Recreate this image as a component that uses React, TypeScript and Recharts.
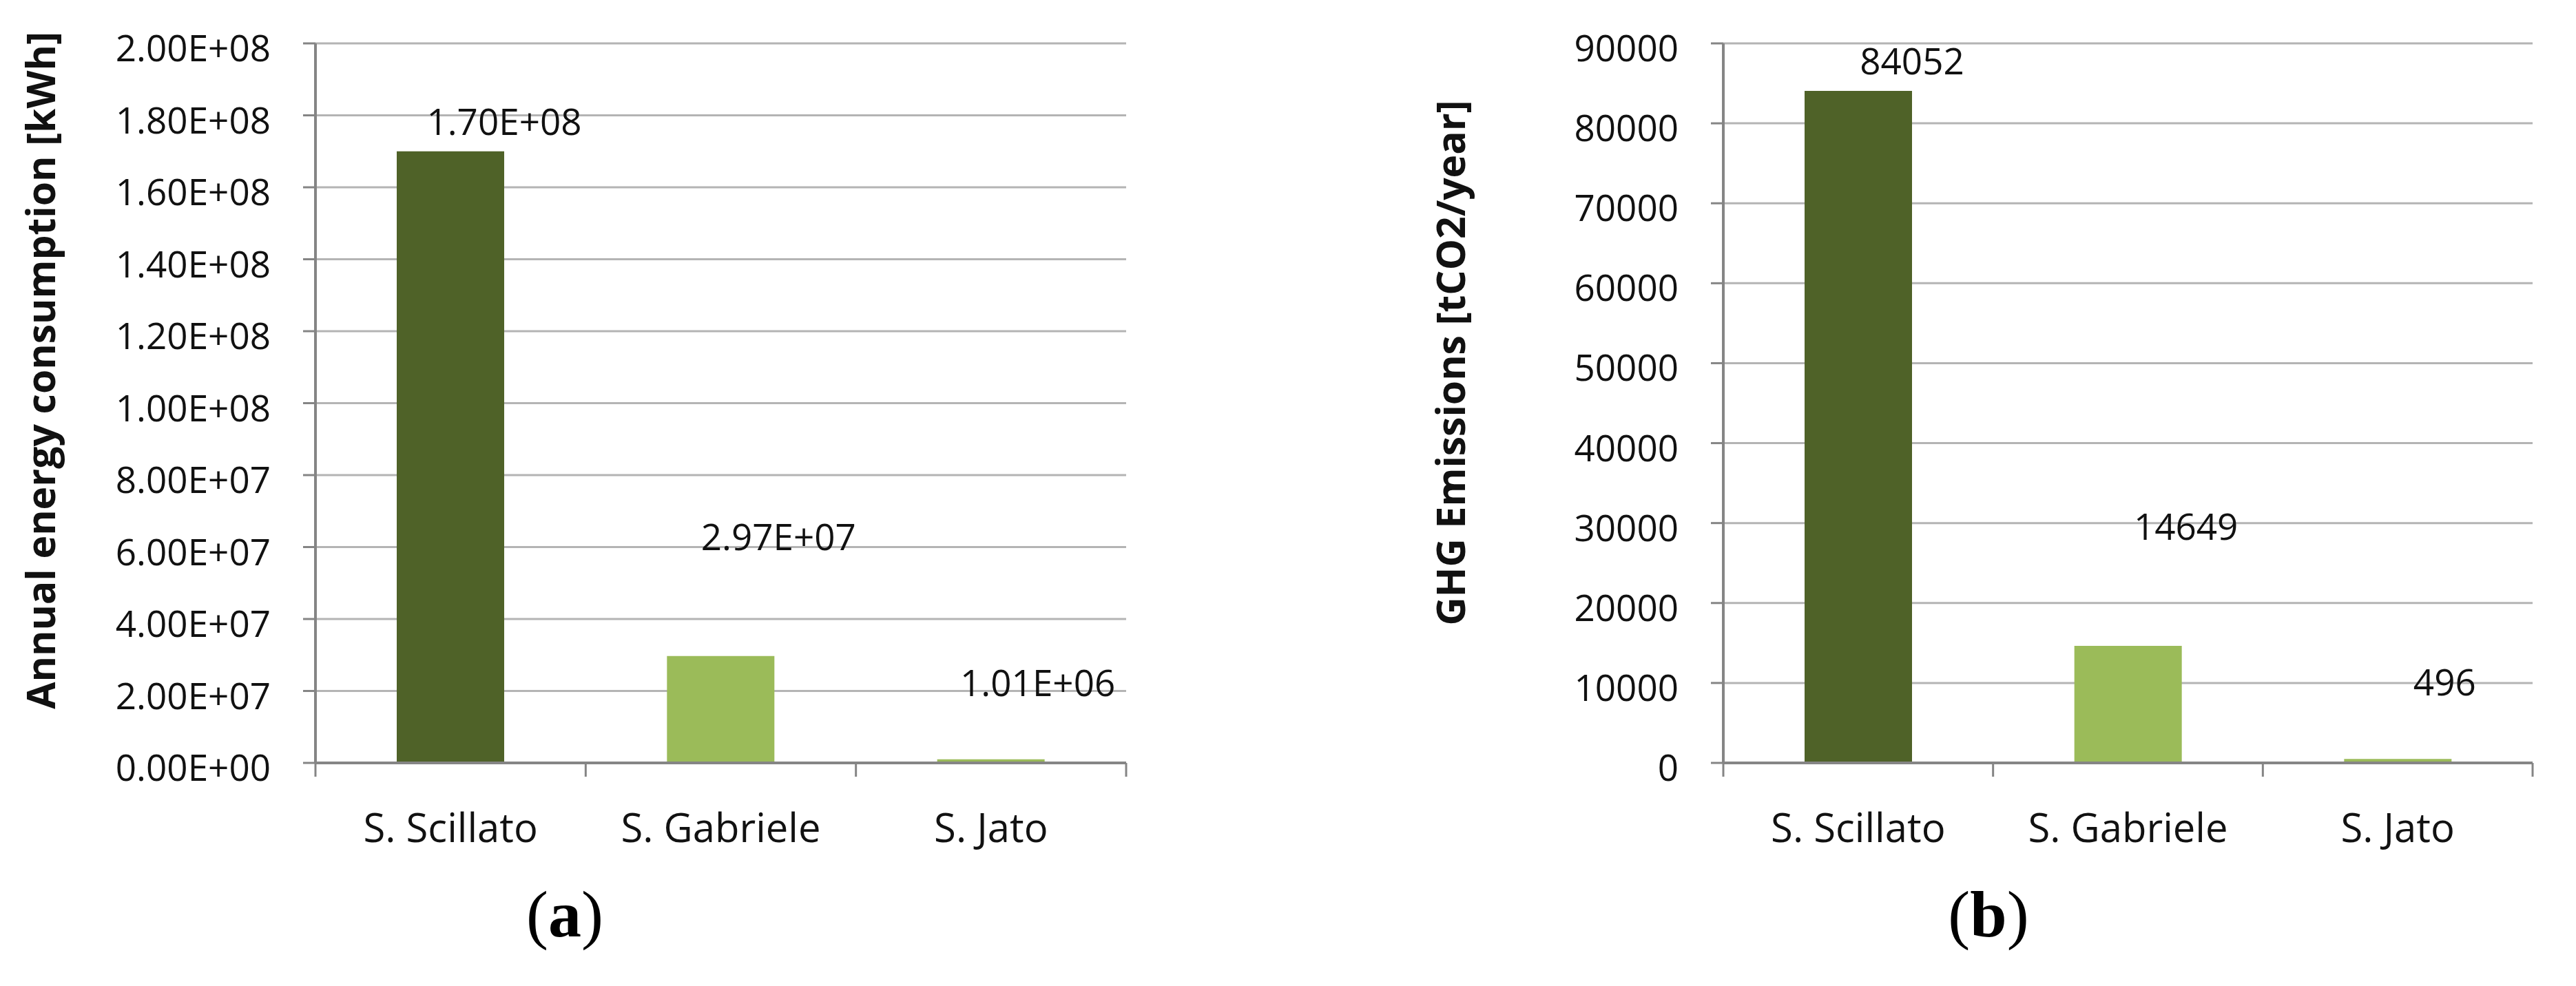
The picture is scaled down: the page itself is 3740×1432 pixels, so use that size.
import React from 'react';
import { BarChart, Bar, XAxis, YAxis, CartesianGrid, LabelList, Cell } from 'recharts';

const categories = ['S. Scillato', 'S. Gabriele', 'S. Jato'];
const energyKWh = [1.7e8, 2.97e7, 1.01e6];
const ghgTonnes = [84052, 14649, 496];
const energyTicks = [0, 2e7, 4e7, 6e7, 8e7, 1e8, 1.2e8, 1.4e8, 1.6e8, 1.8e8, 2e8];
const ghgTicks = [0, 10000, 20000, 30000, 40000, 50000, 60000, 70000, 80000, 90000];
const barColors = ['#4f6228', '#9bbb59', '#9bbb59'];

// the data labels were dragged by hand in the original, offset from bar top-centre
const labelShift = [
  { dx: 78, dy: -43 },
  { dx: 84, dy: -173 },
  { dx: 68, dy: -111 },
];

const SANS = "'Open Sans', sans-serif";
const CHART_H = 1432;
const PLOT_TOP = 63;
const PLOT_H = 1045;
const AXIS = '#858585';
const GRID = '#b4b4b4';
const INK = '#111';

const sci = (v: number) => {
  const [m, e] = v.toExponential(2).split('e');
  return `${m}E${e[0]}${e.slice(1).padStart(2, '0')}`;
};
const plain = (v: number) => String(v);

const ValTick = (p: any) => (
  <text x={p.x} y={p.y + 26} textAnchor="end" fontSize={53} fontFamily={SANS} fill={INK}>
    {p.fmt(p.payload.value)}
  </text>
);

const CatTick = (p: any) => {
  const half = p.band / 2;
  return (
    <g>
      <line x1={p.x - half} y1={p.y} x2={p.x - half} y2={p.y + 20} stroke={AXIS} strokeWidth={3} />
      {p.index === categories.length - 1 && (
        <line x1={p.x + half} y1={p.y} x2={p.x + half} y2={p.y + 20} stroke={AXIS} strokeWidth={3} />
      )}
      <text x={p.x} y={p.y + 115} textAnchor="middle" fontSize={58} fontFamily={SANS} fill={INK}>
        {p.payload.value}
      </text>
    </g>
  );
};

const BarValue = (p: any) => {
  const s = labelShift[p.index] || { dx: 0, dy: 0 };
  return (
    <text
      x={Number(p.x) + Number(p.width) / 2 + s.dx}
      y={Number(p.y) + s.dy + 19}
      textAnchor="middle"
      fontSize={53}
      fontFamily={SANS}
      fill={INK}
    >
      {p.fmt(p.value)}
    </text>
  );
};

type PanelProps = {
  values: number[];
  ticks: number[];
  fmt: (v: number) => string;
  title: string;
  left: number;
  width: number;
  axisW: number;
  right: number;
  titleX: number;
  titleY: number;
};

function Panel({ values, ticks, fmt, title, left, width, axisW, right, titleX, titleY }: PanelProps) {
  const data = categories.map((name, i) => ({ name, value: values[i] }));
  const band = (width - axisW - right) / categories.length;
  const bx = titleX + 18;
  return (
    <div style={{ position: 'absolute', left, top: 0 }}>
      <BarChart
        width={width}
        height={CHART_H}
        data={data}
        margin={{ top: PLOT_TOP, right, bottom: CHART_H - PLOT_TOP - PLOT_H - 100, left: 0 }}
      >
        <CartesianGrid vertical={false} stroke={GRID} strokeWidth={3} />
        <XAxis
          dataKey="name"
          height={100}
          interval={0}
          axisLine={{ stroke: AXIS, strokeWidth: 4 }}
          tickLine={false}
          tickSize={0}
          tickMargin={0}
          tick={(p: any) => <CatTick {...p} band={band} />}
        />
        <XAxis xAxisId="top" orientation="top" height={0} axisLine={{ stroke: AXIS, strokeWidth: 4 }} tick={false} tickLine={false} />
        <YAxis
          width={axisW}
          domain={[0, ticks[ticks.length - 1]]}
          ticks={ticks}
          interval={0}
          axisLine={{ stroke: AXIS, strokeWidth: 4 }}
          tickLine={{ stroke: AXIS, strokeWidth: 3 }}
          tickSize={18}
          tickMargin={47}
          tick={(p: any) => <ValTick {...p} fmt={fmt} />}
          label={() => (
            <text
              x={bx}
              y={titleY}
              transform={`rotate(-90 ${bx} ${titleY})`}
              textAnchor="middle"
              fontSize={57}
              fontWeight="bold"
              fontFamily={SANS}
              fill={INK}
            >
              {title}
            </text>
          )}
        />
        <YAxis yAxisId="frame" orientation="right" width={0} axisLine={{ stroke: AXIS, strokeWidth: 4 }} tick={false} tickLine={false} />
        <Bar dataKey="value" barSize={156} isAnimationActive={false}>
          {data.map((d, i) => (
            <Cell key={d.name} fill={barColors[i]} />
          ))}
          <LabelList dataKey="value" content={(p: any) => <BarValue {...p} fmt={fmt} />} />
        </Bar>
      </BarChart>
    </div>
  );
}

const Caption = ({ letter, cx }: { letter: string; cx: number }) => (
  <div
    style={{
      position: 'absolute',
      left: cx - 100,
      top: 1280,
      width: 200,
      textAlign: 'center',
      fontFamily: "'Liberation Serif', serif",
      fontSize: 96,
      lineHeight: 1,
      color: '#000',
    }}
  >
    (<b>{letter}</b>)
  </div>
);

export default function App() {
  return (
    <div style={{ position: 'absolute', left: 0, top: 0, width: 3740, height: 1432, background: '#fff' }}>
      <Panel
        values={energyKWh}
        ticks={energyTicks}
        fmt={sci}
        title="Annual energy consumption [kWh]"
        left={0}
        width={1700}
        axisW={458}
        right={65}
        titleX={62}
        titleY={538}
      />
      <Panel
        values={ghgTonnes}
        ticks={ghgTicks}
        fmt={plain}
        title="GHG Emissions [tCO2/year]"
        left={1950}
        width={1790}
        axisW={552}
        right={63}
        titleX={159}
        titleY={527}
      />
      <Caption letter="a" cx={820} />
      <Caption letter="b" cx={2887} />
    </div>
  );
}
